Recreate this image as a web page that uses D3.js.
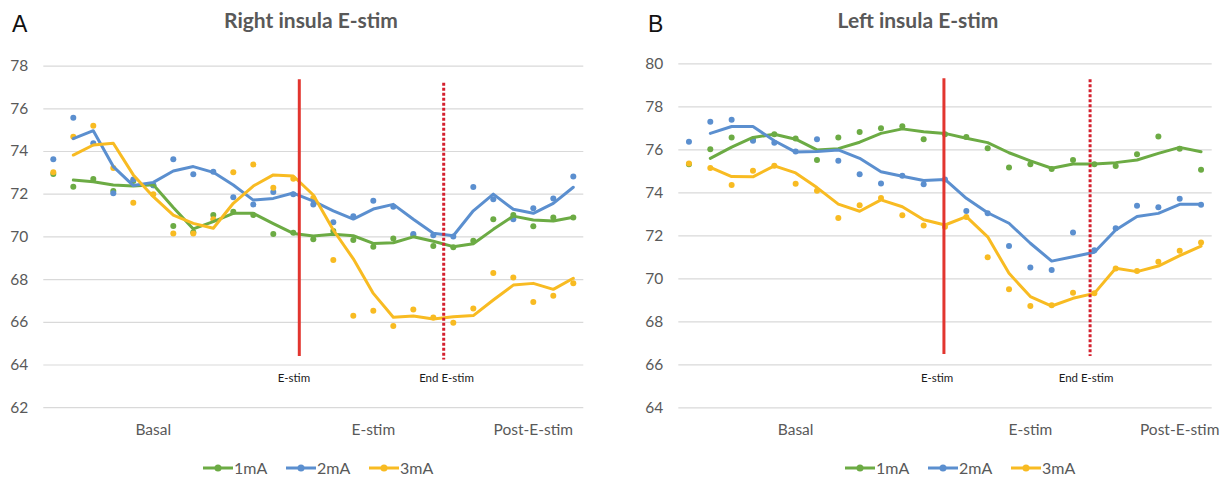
<!DOCTYPE html>
<html>
<head>
<meta charset="utf-8">
<script src="https://cdn.jsdelivr.net/npm/d3@7"></script>
<style>
  html, body { margin: 0; padding: 0; background: #fff; }
  svg { display: block; }
  text { font-family: Lato, "Open Sans", "Liberation Sans", sans-serif; }
</style>
</head>
<body>
<svg id="chart" width="1222" height="477"></svg>
<script>
// ---------- Panel A: right insula stimulation (27 samples) ----------
const seriesNames = ["1mA", "2mA", "3mA"];
const seriesColors = ["#6cab44", "#5b8fcf", "#f8bb22"];

const rightInsula1mA = [72.92, 72.33, 72.69, 72.13, 72.59, 72.39, 70.49, 70.20, 71.00, 71.16, 71.00, 70.11, 70.17, 69.87, 70.25, 69.83, 69.52, 69.90, 70.06, 69.55, 69.49, 69.80, 70.80, 71.00, 70.47, 70.89, 70.88];
const rightInsula2mA = [73.61, 75.56, 74.36, 72.02, 72.67, 72.39, 73.61, 72.91, 73.03, 71.83, 71.50, 72.08, 71.98, 71.50, 70.66, 70.94, 71.67, 71.39, 70.11, 70.05, 70.00, 72.31, 71.74, 70.80, 71.32, 71.78, 72.80];
const rightInsula3mA = [73.00, 74.67, 75.18, 73.20, 71.58, 71.97, 70.14, 70.14, 70.80, 73.00, 73.37, 72.28, 72.70, 71.80, 68.90, 66.28, 66.52, 65.80, 66.58, 66.20, 65.96, 66.62, 68.28, 68.08, 66.93, 67.22, 67.80];

// moving-average trend of each series (first sample has none)
const rightInsula1mATrend = [null, 72.64, 72.56, 72.41, 72.36, 72.42, 71.35, 70.35, 70.69, 71.08, 71.08, 70.60, 70.14, 70.02, 70.10, 70.03, 69.67, 69.70, 69.98, 69.77, 69.52, 69.66, 70.33, 70.95, 70.77, 70.72, 70.90];
const rightInsula2mATrend = [null, 74.58, 74.95, 73.27, 72.38, 72.53, 73.06, 73.27, 73.00, 72.41, 71.70, 71.78, 72.03, 71.65, 71.20, 70.81, 71.28, 71.50, 70.80, 70.15, 70.03, 71.20, 71.98, 71.27, 71.08, 71.55, 72.30];
const rightInsula3mATrend = [null, 73.81, 74.28, 74.36, 72.88, 71.86, 71.00, 70.61, 70.38, 71.55, 72.36, 72.88, 72.83, 71.94, 70.30, 68.95, 67.33, 66.21, 66.27, 66.13, 66.24, 66.29, 67.02, 67.72, 67.80, 67.52, 68.04];

const rightInsulaTicks = [62, 64, 66, 68, 70, 72, 74, 76, 78];
const rightInsulaPhases = ["Basal", "E-stim", "Post-E-stim"];
const rightInsulaPhaseAt = [5, 16, 24];
// stimulation onset / offset markers: [sample position, top value, bottom value]
const rightInsulaOnset = [12.3, 77.36, 64.4];
const rightInsulaOffset = [19.52, 77.2, 64.24];

// ---------- Panel B: left insula stimulation (25 samples) ----------
const leftInsula1mA = [75.30, 76.00, 76.55, 76.45, 76.70, 76.50, 75.50, 76.55, 76.80, 76.98, 77.07, 76.47, 76.70, 76.57, 76.05, 75.15, 75.31, 75.08, 75.50, 75.30, 75.22, 75.77, 76.59, 76.02, 75.05];
const leftInsula2mA = [76.35, 77.28, 77.38, 76.40, 76.30, 75.90, 76.47, 75.47, 74.84, 74.41, 74.77, 74.38, 74.60, 73.13, 73.02, 71.50, 70.50, 70.39, 72.13, 71.30, 72.33, 73.37, 73.31, 73.70, 73.42];
const leftInsula3mA = [75.34, 75.13, 74.34, 75.00, 75.23, 74.40, 74.07, 72.80, 73.40, 73.74, 72.93, 72.46, 72.40, 72.85, 70.98, 69.49, 68.71, 68.75, 69.33, 69.30, 70.46, 70.34, 70.77, 71.28, 71.66];

const leftInsula1mATrend = [null, 75.58, 76.10, 76.55, 76.70, 76.47, 75.97, 76.03, 76.33, 76.74, 76.95, 76.82, 76.74, 76.51, 76.31, 75.84, 75.46, 75.12, 75.32, 75.32, 75.38, 75.50, 75.81, 76.09, 75.89];
const leftInsula2mATrend = [null, 76.74, 77.06, 77.06, 76.40, 75.87, 75.90, 75.97, 75.58, 74.96, 74.75, 74.55, 74.60, 73.72, 73.05, 72.56, 71.63, 70.80, 71.00, 71.21, 72.25, 72.87, 73.02, 73.44, 73.44];
const leftInsula3mATrend = [null, 75.16, 74.73, 74.72, 75.23, 74.90, 74.22, 73.45, 73.12, 73.65, 73.33, 72.72, 72.48, 72.87, 71.93, 70.23, 69.15, 68.71, 69.07, 69.30, 70.47, 70.31, 70.57, 71.05, 71.50];

const leftInsulaTicks = [64, 66, 68, 70, 72, 74, 76, 78, 80];
const leftInsulaPhases = ["Basal", "E-stim", "Post-E-stim"];
const leftInsulaPhaseAt = [5, 16, 23];
const leftInsulaOnset = [11.95, 79.3, 66.48];
const leftInsulaOffset = [18.8, 79.26, 66.39];

const svg = d3.select("#chart");

function drawPanel(p) {
  const g = svg.append("g");
  const n = p.points[0].length;
  const x = d3.scaleLinear().domain([-0.5, n - 0.5]).range([p.left, p.right]);
  const y = d3.scaleLinear().domain(d3.extent(p.ticks)).range([p.bottom, p.top]);

  // panel letter and title
  g.append("text").attr("x", p.letterX).attr("y", 32)
    .style("font-family", "'Liberation Sans', Arial, sans-serif")
    .attr("font-size", 23).attr("fill", "#111").text(p.letter);
  g.append("text").attr("x", p.titleX).attr("y", 28).attr("text-anchor", "middle")
    .attr("font-size", 21).attr("font-weight", "bold").attr("fill", "#595959").text(p.title);

  // horizontal gridlines with value labels
  const yAxis = d3.axisLeft(y).tickValues(p.ticks).tickSize(-(p.right - p.left)).tickPadding(15);
  const ya = g.append("g").attr("transform", `translate(${p.left},0)`).call(yAxis);
  ya.select(".domain").remove();
  ya.selectAll(".tick line").attr("stroke", "#d9d9d9").attr("stroke-width", 1.2);
  ya.selectAll(".tick text").attr("font-size", 15.5).attr("fill", "#595959")
    .style("font-family", "Lato, sans-serif");

  // phase labels along the bottom
  g.selectAll(".phase").data(p.phases).join("text")
    .attr("x", (d, i) => x(p.phaseAt[i])).attr("y", 435).attr("text-anchor", "middle")
    .attr("font-size", 15.5).attr("fill", "#595959").text(d => d);

  // sample markers
  p.points.forEach((vals, s) => {
    g.append("g").selectAll("circle").data(vals).join("circle")
      .attr("cx", (d, i) => x(i)).attr("cy", d => y(d)).attr("r", 3)
      .attr("fill", seriesColors[s]);
  });

  // moving-average trend lines
  const line = d3.line().defined(d => d != null).x((d, i) => x(i)).y(d => y(d));
  p.trends.forEach((vals, s) => {
    g.append("path").datum(vals).attr("d", line).attr("fill", "none")
      .attr("stroke", seriesColors[s]).attr("stroke-width", 3)
      .attr("stroke-linejoin", "round").attr("stroke-linecap", "round");
  });

  // stimulation onset (solid) and end (dotted)
  g.append("line")
    .attr("x1", x(p.onset[0])).attr("x2", x(p.onset[0]))
    .attr("y1", y(p.onset[1])).attr("y2", y(p.onset[2]))
    .attr("stroke", "#e2352f").attr("stroke-width", 3);
  g.append("line")
    .attr("x1", x(p.offset[0])).attr("x2", x(p.offset[0]))
    .attr("y1", y(p.offset[1])).attr("y2", y(p.offset[2]))
    .attr("stroke", "#d4202e").attr("stroke-width", 3).attr("stroke-dasharray", "3,2");

  g.append("text").attr("x", x(p.onsetLabel)).attr("y", 382).attr("text-anchor", "middle")
    .attr("font-size", 11.5).attr("fill", "#1a1a1a").text("E-stim");
  g.append("text").attr("x", x(p.offsetLabel)).attr("y", 382).attr("text-anchor", "middle")
    .attr("font-size", 11.5).attr("fill", "#1a1a1a").text("End E-stim");

  // legend
  const lg = g.append("g").attr("transform", `translate(${p.legendX},468)`);
  seriesNames.forEach((name, s) => {
    const it = lg.append("g").attr("transform", `translate(${s * 83},0)`);
    it.append("line").attr("x1", 0).attr("x2", 30).attr("y1", 0).attr("y2", 0)
      .attr("stroke", seriesColors[s]).attr("stroke-width", 3);
    it.append("circle").attr("cx", 15).attr("cy", 0).attr("r", 3.5).attr("fill", seriesColors[s]);
    it.append("text").attr("x", 31).attr("y", 5.5).attr("font-size", 16)
      .attr("fill", "#595959").text(name);
  });
}

drawPanel({
  letter: "A", letterX: 12, title: "Right insula E-stim", titleX: 311,
  left: 43.3, right: 583.3, top: 65.6, bottom: 407.2,
  ticks: rightInsulaTicks,
  points: [rightInsula1mA, rightInsula2mA, rightInsula3mA],
  trends: [rightInsula1mATrend, rightInsula2mATrend, rightInsula3mATrend],
  phases: rightInsulaPhases, phaseAt: rightInsulaPhaseAt,
  onset: rightInsulaOnset, offset: rightInsulaOffset,
  onsetLabel: 12.03, offsetLabel: 19.66, legendX: 203
});

drawPanel({
  letter: "B", letterX: 648, title: "Left insula E-stim", titleX: 918,
  left: 678.3, right: 1211.7, top: 63.3, bottom: 407.3,
  ticks: leftInsulaTicks,
  points: [leftInsula1mA, leftInsula2mA, leftInsula3mA],
  trends: [leftInsula1mATrend, leftInsula2mATrend, leftInsula3mATrend],
  phases: leftInsulaPhases, phaseAt: leftInsulaPhaseAt,
  onset: leftInsulaOnset, offset: leftInsulaOffset,
  onsetLabel: 11.63, offsetLabel: 18.61, legendX: 845
});
</script>
</body>
</html>
